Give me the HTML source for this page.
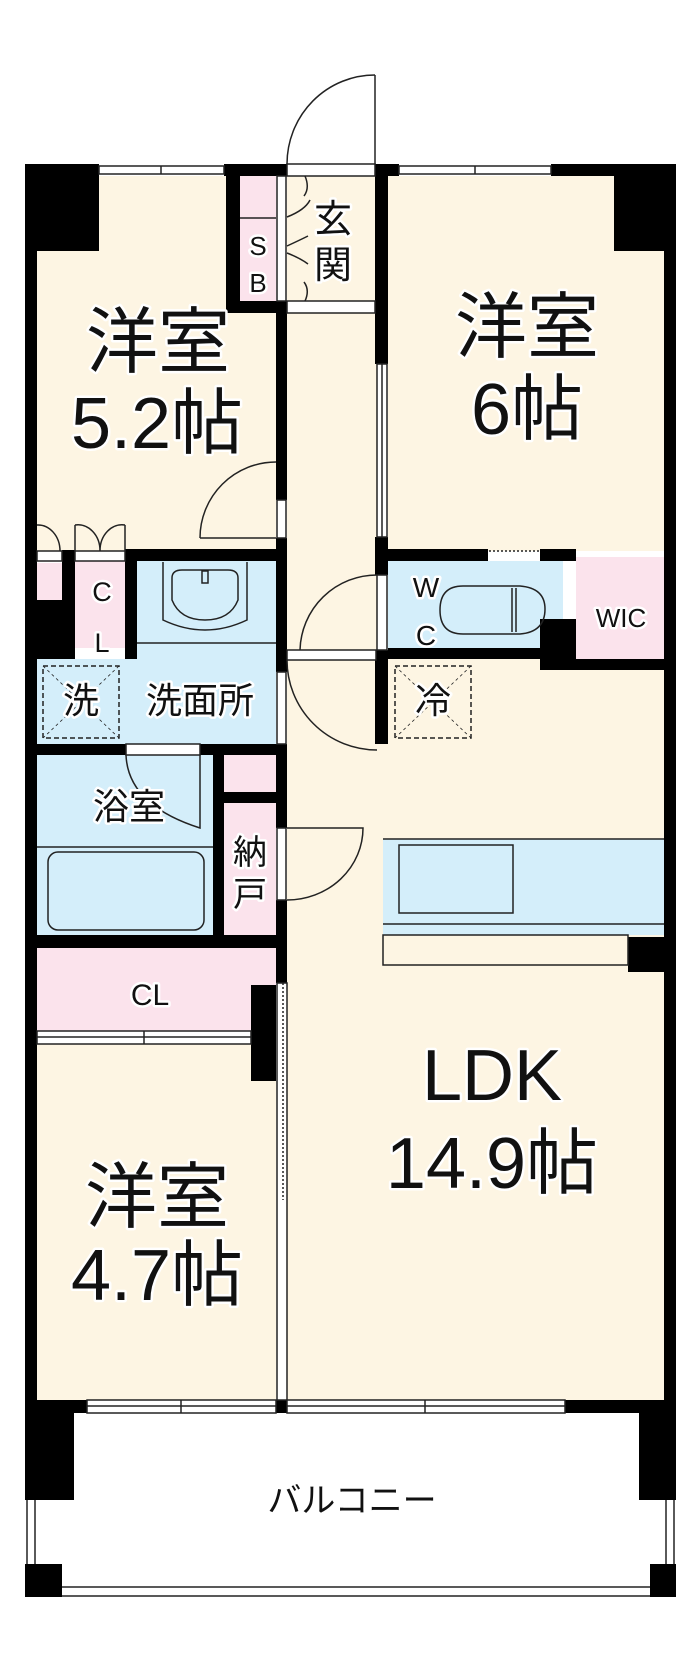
<!DOCTYPE html>
<html><head><meta charset="utf-8"><style>
html,body{margin:0;padding:0;background:#fff;}
svg{display:block;}
text{font-family:"Liberation Sans","Noto Sans CJK JP",sans-serif;fill:#111;paint-order:stroke;stroke:#fff;stroke-width:5px;stroke-linejoin:round;}
</style></head><body>
<svg width="700" height="1667" viewBox="0 0 700 1667" xmlns="http://www.w3.org/2000/svg">
<g stroke="none">
<rect x="37" y="176" width="189" height="377" fill="#fdf5e3"/>
<rect x="226" y="313" width="50" height="240" fill="#fdf5e3"/>
<rect x="388" y="176" width="276" height="375" fill="#fdf5e3"/>
<rect x="287" y="176" width="90" height="1225" fill="#fdf5e3"/>
<rect x="287" y="659" width="377" height="742" fill="#fdf5e3"/>
<rect x="37" y="1044" width="239" height="357" fill="#fdf5e3"/>
<rect x="240" y="176" width="36" height="125" fill="#fbe3ec"/>
<rect x="37" y="563" width="25" height="37" fill="#fbe3ec"/>
<rect x="75" y="561" width="50" height="87" fill="#fbe3ec"/>
<rect x="137" y="561" width="139" height="98" fill="#d4eefa"/>
<rect x="37" y="659" width="239" height="85" fill="#d4eefa"/>
<rect x="37" y="755" width="176" height="180" fill="#d4eefa"/>
<rect x="224" y="751" width="52" height="41" fill="#fbe3ec"/>
<rect x="224" y="803" width="52" height="132" fill="#fbe3ec"/>
<rect x="388" y="561" width="175" height="87" fill="#d4eefa"/>
<rect x="576" y="557" width="88" height="102" fill="#fbe3ec"/>
<rect x="37" y="948" width="239" height="83" fill="#fbe3ec"/>
<rect x="383" y="839" width="281" height="96" fill="#d4eefa"/>
</g>
<g fill="#000">
<rect x="25" y="164" width="12" height="1249"/>
<rect x="664" y="164" width="12" height="1249"/>
<rect x="25" y="164" width="74" height="87"/>
<rect x="614" y="164" width="62" height="87"/>
<rect x="224" y="164" width="63" height="12"/>
<rect x="551" y="164" width="63" height="12"/>
<rect x="375" y="164" width="24" height="12"/>
<rect x="226" y="164" width="14" height="149"/>
<rect x="226" y="301" width="61" height="12"/>
<rect x="375" y="164" width="13" height="200"/>
<rect x="276" y="301" width="11" height="199"/>
<rect x="375" y="537" width="13" height="38"/>
<rect x="375" y="650" width="13" height="94"/>
<rect x="137" y="549" width="150" height="12"/>
<rect x="388" y="549" width="100" height="12"/>
<rect x="540" y="549" width="36" height="12"/>
<rect x="62" y="550" width="13" height="109"/>
<rect x="37" y="600" width="25" height="59"/>
<rect x="125" y="549" width="12" height="110"/>
<rect x="540" y="619" width="36" height="51"/>
<rect x="540" y="659" width="136" height="11"/>
<rect x="388" y="648" width="152" height="11"/>
<rect x="276" y="538" width="11" height="134"/>
<rect x="25" y="744" width="101" height="11"/>
<rect x="200" y="744" width="87" height="11"/>
<rect x="276" y="744" width="11" height="84"/>
<rect x="276" y="900" width="11" height="83"/>
<rect x="213" y="744" width="11" height="191"/>
<rect x="224" y="792" width="52" height="11"/>
<rect x="25" y="935" width="262" height="13"/>
<rect x="251" y="985" width="25" height="96"/>
<rect x="628" y="937" width="48" height="35"/>
<rect x="25" y="1400" width="62" height="13"/>
<rect x="276" y="1400" width="11" height="13"/>
<rect x="565" y="1400" width="111" height="13"/>
<rect x="25" y="1400" width="49" height="100"/>
<rect x="639" y="1400" width="37" height="100"/>
<rect x="25" y="1564" width="37" height="33"/>
<rect x="650" y="1564" width="26" height="33"/>
</g>
<g fill="none" stroke="#222" stroke-width="1.5">
<rect x="99" y="166" width="125" height="8"/><line x1="161" y1="166" x2="161" y2="174"/>
<rect x="399" y="166" width="152" height="8"/><line x1="475" y1="166" x2="475" y2="174"/>
<rect x="287" y="164" width="88" height="12" fill="#fff"/>
<rect x="287" y="301" width="88" height="12" fill="#fff"/>
<rect x="277" y="176" width="9" height="125" fill="#fff"/>
<line x1="240" y1="218" x2="276" y2="218"/>
<line x1="375" y1="75" x2="375" y2="164"/>
<path d="M287 164 A88 89 0 0 1 375 75"/>
<path d="M287 217 Q305 210 310 200 M287 246 Q300 240 308 236 M287 253 Q300 258 308 264 M305 176 Q310 188 304 196 M305 301 Q310 290 304 282"/>
<rect x="377" y="364" width="10" height="173" fill="#fff"/>
<line x1="382" y1="364" x2="382" y2="537"/>
<line x1="489" y1="551" x2="540" y2="551" stroke-dasharray="2 2"/>
<rect x="277" y="500" width="9" height="38" fill="#fff"/>
<path d="M200 538 L276 538 M200 538 A76 76 0 0 1 276 462"/>
<rect x="377" y="575" width="10" height="75" fill="#fff"/>
<path d="M300 650 A77 77 0 0 1 377 575"/>
<rect x="287" y="650" width="89" height="10" fill="#fff"/>
<path d="M287 660 A90 90 0 0 0 377 750"/>
<rect x="37" y="551" width="25" height="10" fill="#fff"/>
<rect x="75" y="551" width="50" height="10" fill="#fff"/>
<path d="M37 525 A22 26 0 0 1 60 551 M75 525 L75 551 M75 525 A22 26 0 0 1 100 551 M125 525 L125 551 M125 525 A22 26 0 0 0 100 551"/>
<path d="M163 562 L163 620 Q205 640 247 620 L247 562"/>
<path d="M172 578 Q172 570 182 570 L228 570 Q238 570 238 578 L238 600 Q230 620 205 620 Q180 620 172 600 Z"/>
<rect x="202" y="571" width="6" height="12"/>
<line x1="137" y1="643" x2="276" y2="643"/>
<rect x="43" y="666" width="76" height="72" stroke-dasharray="5 3"/>
<path d="M43 666 L119 738 M119 666 L43 738" stroke-width="0.8" stroke-dasharray="3 3"/>
<rect x="395" y="666" width="76" height="72" stroke-dasharray="5 3"/>
<path d="M395 666 L471 738 M471 666 L395 738" stroke-width="0.8" stroke-dasharray="3 3"/>
<rect x="277" y="672" width="9" height="72" fill="#fff"/>
<rect x="126" y="744" width="74" height="11" fill="#fff"/>
<path d="M126 755 Q128 805 200 828 L200 755"/>
<line x1="37" y1="847" x2="213" y2="847"/>
<rect x="48" y="852" width="156" height="78" rx="10"/>
<rect x="277" y="828" width="9" height="72" fill="#fff"/>
<path d="M287 828 L363 828 A76 72 0 0 1 287 900"/>
<path d="M463 586 L520 586 Q545 588 545 609 Q545 632 520 634 L463 634 Q440 634 440 610 Q440 586 463 586 Z"/>
<line x1="512" y1="588" x2="512" y2="632"/><line x1="516" y1="588" x2="516" y2="632"/>
<rect x="399" y="845" width="114" height="68"/>
<line x1="383" y1="839" x2="664" y2="839"/>
<line x1="383" y1="924" x2="664" y2="924"/>
<rect x="383" y="935" width="245" height="30" fill="#fdf5e3"/>
<rect x="37" y="1031" width="214" height="13" fill="#fff"/>
<line x1="37" y1="1037" x2="251" y2="1037"/><line x1="144" y1="1031" x2="144" y2="1044"/>
<rect x="277" y="983" width="10" height="417" fill="#fff"/>
<line x1="283" y1="983" x2="283" y2="1200" stroke-dasharray="2 2"/>
<rect x="87" y="1400" width="189" height="13" fill="#fff"/>
<line x1="87" y1="1406" x2="276" y2="1406"/><line x1="181" y1="1400" x2="181" y2="1413"/>
<rect x="287" y="1400" width="278" height="13" fill="#fff"/>
<line x1="287" y1="1406" x2="565" y2="1406"/><line x1="425" y1="1400" x2="425" y2="1413"/>
<line x1="27" y1="1500" x2="27" y2="1564"/><line x1="35" y1="1500" x2="35" y2="1564"/>
<line x1="666" y1="1500" x2="666" y2="1564"/><line x1="674" y1="1500" x2="674" y2="1564"/>
<line x1="62" y1="1587" x2="650" y2="1587"/><line x1="62" y1="1596" x2="650" y2="1596"/>
</g>
<g text-anchor="middle">
<text x="158" y="367" font-size="72">洋室</text>
<text x="157" y="448" font-size="72">5.2帖</text>
<text x="527" y="352" font-size="72">洋室</text>
<text x="527" y="434" font-size="72">6帖</text>
<text x="157" y="1222" font-size="72">洋室</text>
<text x="157" y="1300" font-size="72">4.7帖</text>
<text x="492" y="1100" font-size="72">LDK</text>
<text x="492" y="1188" font-size="72">14.9帖</text>
<text x="333" y="232" font-size="38">玄</text>
<text x="333" y="278" font-size="38">関</text>
<text x="258" y="255" font-size="26">S</text>
<text x="258" y="292" font-size="26">B</text>
<text x="426" y="597" font-size="28">W</text>
<text x="426" y="645" font-size="28">C</text>
<text x="621" y="627" font-size="26">WIC</text>
<text x="102" y="601" font-size="27">C</text>
<text x="102" y="652" font-size="27">L</text>
<text x="81" y="713" font-size="36">洗</text>
<text x="200" y="713" font-size="36">洗面所</text>
<text x="433" y="713" font-size="36">冷</text>
<text x="129" y="819" font-size="36">浴室</text>
<text x="250" y="864" font-size="34">納</text>
<text x="250" y="906" font-size="34">戸</text>
<text x="150" y="1005" font-size="30">CL</text>
<text x="352" y="1512" font-size="34">バルコニー</text>
</g>
</svg>
</body></html>
